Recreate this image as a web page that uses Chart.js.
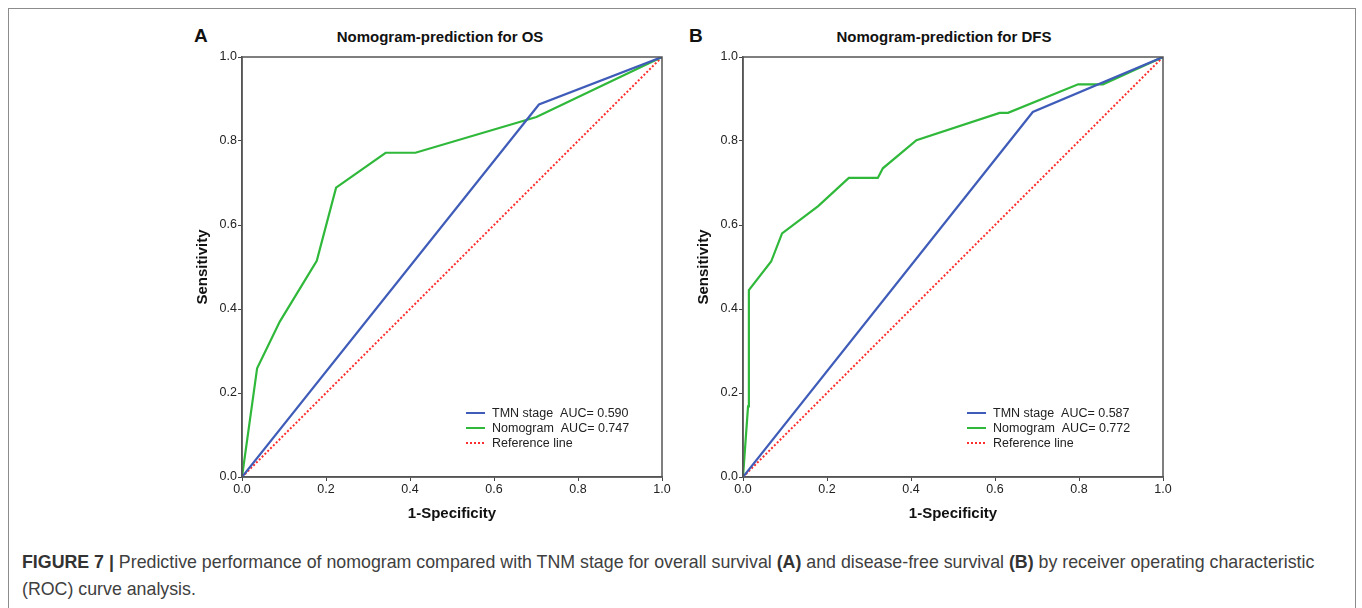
<!DOCTYPE html>
<html>
<head>
<meta charset="utf-8">
<script src="https://cdn.jsdelivr.net/npm/chart.js@4"></script>
<style>
  body { margin: 0; background: #fff; font-family: 'Liberation Sans', Arial, sans-serif; }
  #frame { position: absolute; left: 8px; top: 8px; width: 1346px; height: 640px; border: 1.5px solid #8c8c8c; }
  .panel { position: absolute; }
  .letter { position: absolute; font-weight: bold; font-size: 19px; color: #111; }
  .ttl { position: absolute; font-weight: bold; font-size: 15px; color: #111; transform: translateX(-50%); white-space: nowrap; }
  #caption { position: absolute; left: 22px; top: 549px; width: 1316px; font-size: 17.8px; line-height: 27px; color: #404040; }
  #caption b { color: #333; }
</style>
</head>
<body>
<div id="frame"></div>
<div class="letter" style="left:194px;top:25px">A</div>
<div class="letter" style="left:689px;top:25px">B</div>
<div class="ttl" style="left:440px;top:28px">Nomogram-prediction for OS</div>
<div class="ttl" style="left:944px;top:28px">Nomogram-prediction for DFS</div>
<div class="panel" style="left:192px;top:27px;width:490px;height:500px"><canvas id="chartA"></canvas></div>
<div class="panel" style="left:693px;top:27px;width:490px;height:500px"><canvas id="chartB"></canvas></div>
<div id="caption"><b>FIGURE 7 |</b> Predictive performance of nomogram compared with TNM stage for overall survival <b>(A)</b> and disease-free survival <b>(B)</b> by receiver operating characteristic (ROC) curve analysis.</div>

<script>
// ROC points: x = 1-Specificity, y = Sensitivity
const axisTicks = [0, 0.2, 0.4, 0.6, 0.8, 1.0];

const osTmnX = [0, 0.707, 1];
const osTmnY = [0, 0.887, 1];
const osNomoX = [0, 0.036, 0.09, 0.178, 0.224, 0.342, 0.413, 0.701, 1];
const osNomoY = [0, 0.259, 0.37, 0.515, 0.689, 0.772, 0.772, 0.857, 1];

const dfsTmnX = [0, 0.69, 1];
const dfsTmnY = [0, 0.869, 1];
const dfsNomoX = [0, 0.012, 0.014, 0.067, 0.093, 0.179, 0.252, 0.321, 0.333, 0.413, 0.611, 0.631, 0.798, 0.857, 1];
const dfsNomoY = [0, 0.168, 0.445, 0.513, 0.580, 0.645, 0.712, 0.712, 0.735, 0.802, 0.867, 0.867, 0.935, 0.935, 1];

const refX = [0, 1];
const refY = [0, 1];

const osLabels = ['TMN stage  AUC= 0.590', 'Nomogram  AUC= 0.747', 'Reference line'];
const dfsLabels = ['TMN stage  AUC= 0.587', 'Nomogram  AUC= 0.772', 'Reference line'];

const FONT = "'Liberation Sans', Arial, sans-serif";
const BLUE = '#3f5cb8', GREEN = '#2fb83a', RED = '#ff2e2e';

function pts(xs, ys) {
  return xs.map((x, i) => ({ x: x, y: ys[i] }));
}

// box around the plot area plus the in-plot legend
const framePlugin = {
  id: 'frameLegend',
  afterDatasetsDraw(chart) {
    const ctx = chart.ctx, a = chart.chartArea;
    ctx.save();
    ctx.strokeStyle = '#555';
    ctx.lineWidth = 1.5;
    ctx.strokeRect(a.left, a.top, a.right - a.left, a.bottom - a.top);

    const lx = a.left + 224, ly = a.top + 356;
    chart.data.datasets.forEach((ds, i) => {
      const y = ly + i * 15;
      ctx.beginPath();
      ctx.strokeStyle = ds.borderColor;
      ctx.lineWidth = 2;
      ctx.setLineDash(ds.borderDash || []);
      ctx.moveTo(lx, y);
      ctx.lineTo(lx + 19, y);
      ctx.stroke();
      ctx.setLineDash([]);
      ctx.fillStyle = '#222';
      ctx.font = '12.5px ' + FONT;
      ctx.textBaseline = 'middle';
      ctx.fillText(ds.label, lx + 26, y + 1);
    });
    ctx.restore();
  }
};

function makeChart(id, tmnX, tmnY, nomoX, nomoY, labels) {
  return new Chart(document.getElementById(id), {
    type: 'scatter',
    data: {
      datasets: [
        { label: labels[0], data: pts(tmnX, tmnY), borderColor: BLUE, borderWidth: 2.2 },
        { label: labels[1], data: pts(nomoX, nomoY), borderColor: GREEN, borderWidth: 2.2 },
        { label: labels[2], data: pts(refX, refY), borderColor: RED, borderWidth: 2, borderDash: [2, 2] }
      ]
    },
    options: {
      responsive: true,
      maintainAspectRatio: false,
      animation: false,
      showLine: true,
      elements: { point: { radius: 0, hoverRadius: 0 }, line: { tension: 0 } },
      layout: { padding: { top: 30, right: 20, bottom: 0, left: 0 } },
      plugins: { legend: { display: false }, tooltip: { enabled: false } },
      scales: {
        x: {
          type: 'linear', min: 0, max: 1,
          afterFit(s) { s.height = 50; },
          afterBuildTicks(s) { s.ticks = axisTicks.map(v => ({ value: v })); },
          grid: { drawOnChartArea: false, tickLength: 4, color: '#444' },
          border: { color: '#555', width: 1.5 },
          ticks: { color: '#222', font: { family: FONT, size: 12.5 }, padding: 1, maxRotation: 0,
                   callback: v => v.toFixed(1) },
          title: { display: true, text: '1-Specificity', color: '#111',
                   font: { family: FONT, size: 15, weight: 'bold' }, padding: { top: 0, bottom: 4 } }
        },
        y: {
          type: 'linear', min: 0, max: 1,
          afterFit(s) { s.width = 50; },
          afterBuildTicks(s) { s.ticks = axisTicks.map(v => ({ value: v })); },
          grid: { drawOnChartArea: false, tickLength: 4, color: '#444' },
          border: { color: '#555', width: 1.5 },
          ticks: { color: '#222', font: { family: FONT, size: 12.5 }, padding: 1,
                   callback: v => v.toFixed(1) },
          title: { display: true, text: 'Sensitivity', color: '#111',
                   font: { family: FONT, size: 15, weight: 'bold' }, padding: { top: 2, bottom: 0 } }
        }
      }
    },
    plugins: [framePlugin]
  });
}

makeChart('chartA', osTmnX, osTmnY, osNomoX, osNomoY, osLabels);
makeChart('chartB', dfsTmnX, dfsTmnY, dfsNomoX, dfsNomoY, dfsLabels);
</script>
</body>
</html>
